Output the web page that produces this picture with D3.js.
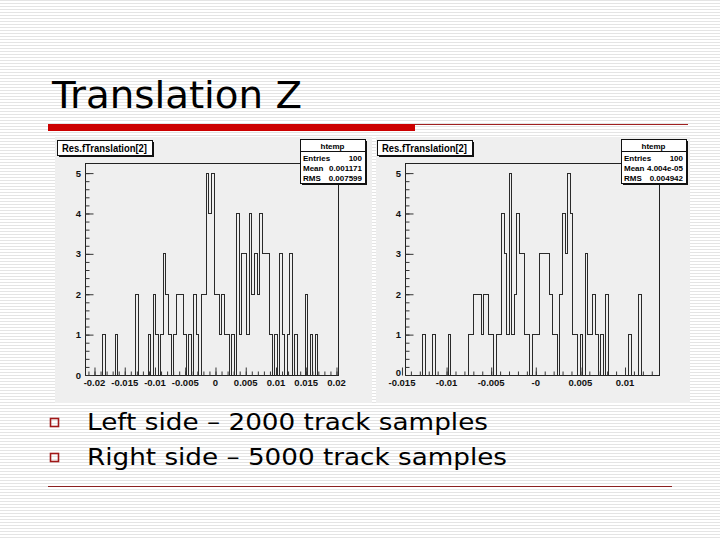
<!DOCTYPE html>
<html><head><meta charset="utf-8">
<script src="https://cdn.jsdelivr.net/npm/d3@7"></script>
<style>html,body{margin:0;padding:0;background:#fff;}svg{display:block;}</style>
</head><body>
<script>
// ---------- data ----------
const slideTitle = "Translation Z";
const bullets = ["Left side \u2013 2000 track samples", "Right side \u2013 5000 track samples"];
const histTitle = "Res.fTranslation[2]";
const statsName = "htemp";
const statsLabels = ["Entries", "Mean", "RMS"];
const leftStats = ["100", "0.001171", "0.007599"];
const rightStats = ["100", "4.004e-05", "0.004942"];
const leftRange = [-0.02157, 0.02025];
const rightRange = [-0.01466, 0.01381];
const leftTickValues = [-0.02, -0.015, -0.01, -0.005, 0, 0.005, 0.01, 0.015, 0.02];
const leftTickLabels = ["-0.02", "-0.015", "-0.01", "-0.005", "0", "0.005", "0.01", "0.015", "0.02"];
const rightTickValues = [-0.015, -0.01, -0.005, 0, 0.005, 0.01];
const rightTickLabels = ["-0.015", "-0.01", "-0.005", "-0", "0.005", "0.01"];
const yTickValues = [0, 1, 2, 3, 4, 5];
const yMax = 5.25;
const leftCounts = [
  0,0,0,0,0,0,0,1,0,0,
  0,0,1,0,0,0,0,0,0,0,
  2,0,0,0,0,1,0,2,1,0,
  1,3,2,1,0,1,2,2,2,1,
  0,1,0,2,1,0,2,2,5,4,
  5,2,2,1,2,1,1,0,1,0,
  4,1,3,3,1,4,2,3,2,4,
  3,3,3,1,0,1,0,3,1,0,
  1,3,0,1,0,0,0,2,0,1,
  0,1,0,0,0,0,0,0,0,0];
const rightCounts = [
  0,0,0,0,0,0,0,1,0,0,
  0,1,0,0,0,0,0,1,0,0,
  0,0,0,0,0,1,1,2,2,2,
  1,2,2,1,1,0,1,1,4,3,
  1,5,1,2,4,3,3,1,1,0,
  1,1,1,3,3,3,3,2,1,1,
  0,2,4,3,5,4,1,1,0,1,
  0,3,1,1,2,1,0,1,0,2,
  0,0,0,0,0,0,0,0,1,0,
  0,0,2,0,0,0,0,0,0,0];

// ---------- slide ----------
const W = 720, H = 540;
const svg = d3.select("body").append("svg").attr("width", W).attr("height", H);
const defs = svg.append("defs");
const pat = defs.append("pattern").attr("id", "stripes").attr("width", 6).attr("height", 3)
  .attr("patternUnits", "userSpaceOnUse");
pat.append("rect").attr("width", 6).attr("height", 3).attr("fill", "#ffffff");
pat.append("rect").attr("width", 6).attr("height", 1).attr("fill", "#e4e4e4");
svg.append("rect").attr("width", W).attr("height", H).attr("fill", "url(#stripes)");

svg.append("text").attr("x", 52).attr("y", 108)
  .attr("font-family", "DejaVu Sans, Verdana, sans-serif").attr("font-size", 38)
  .attr("textLength", 250).attr("lengthAdjust", "spacingAndGlyphs")
  .attr("fill", "#000").text(slideTitle);
svg.append("rect").attr("x", 48).attr("y", 124).attr("width", 367).attr("height", 7).attr("fill", "#cc0000");
svg.append("line").attr("x1", 415).attr("x2", 688).attr("y1", 124.5).attr("y2", 124.5)
  .attr("stroke", "#a02020").attr("stroke-width", 1);
svg.append("line").attr("x1", 48).attr("x2", 672).attr("y1", 486.5).attr("y2", 486.5)
  .attr("stroke", "#8b2020").attr("stroke-width", 1);

const bulletY = [430, 465];
const bulletW = [401, 420];
bullets.forEach((b, i) => {
  svg.append("rect").attr("x", 50.5).attr("y", bulletY[i] - 11.5).attr("width", 8).attr("height", 8)
    .attr("fill", "none").attr("stroke", "#a01818").attr("stroke-width", 1.6);
  svg.append("text").attr("x", 87).attr("y", bulletY[i])
    .attr("font-family", "DejaVu Sans, Verdana, sans-serif").attr("font-size", 23)
    .attr("textLength", bulletW[i]).attr("lengthAdjust", "spacingAndGlyphs")
    .attr("fill", "#000").text(b);
});

// ---------- histogram panel ----------
function panel(cfg) {
  const g = svg.append("g");
  const rootFont = "Liberation Sans, Arial, Helvetica, sans-serif";
  g.append("rect").attr("x", cfg.pad[0]).attr("y", cfg.pad[1]).attr("width", cfg.pad[2]).attr("height", cfg.pad[3])
    .attr("fill", "#efefef");
  const x = d3.scaleLinear().domain(cfg.range).range([cfg.frame[0], cfg.frame[1]]);
  const y = d3.scaleLinear().domain([0, yMax]).range([cfg.frame[3], cfg.frame[2]]);
  const n = cfg.counts.length;
  const bw = (cfg.range[1] - cfg.range[0]) / n;
  // step outline
  const pts = [[x(cfg.range[0]), y(0)]];
  cfg.counts.forEach((c, i) => {
    const a = cfg.range[0] + i * bw, b = a + bw;
    pts.push([x(a), y(c)]); pts.push([x(b), y(c)]);
  });
  pts.push([x(cfg.range[1]), y(0)]);
  g.append("path").attr("d", d3.line()(pts)).attr("fill", "none")
    .attr("stroke", "#2a2a2a").attr("stroke-width", 1).attr("shape-rendering", "crispEdges");
  // frame
  g.append("rect").attr("x", cfg.frame[0] + 0.5).attr("y", cfg.frame[2] + 0.5)
    .attr("width", cfg.frame[1] - cfg.frame[0]).attr("height", cfg.frame[3] - cfg.frame[2])
    .attr("fill", "none").attr("stroke", "#222").attr("stroke-width", 1);
  // x axis ticks (inside, upward)
  const xMajor = cfg.tickValues;
  const xMinor = d3.range(Math.ceil(cfg.range[0] / 0.001), Math.floor(cfg.range[1] / 0.001) + 1).map(k => k * 0.001);
  const xAxis = d3.axisTop(x).tickValues(xMinor).tickSize(4).tickFormat("");
  g.append("g").attr("transform", `translate(0,${cfg.frame[3] + 0.5})`).call(xAxis)
    .call(s => s.select(".domain").remove()).selectAll("line").attr("stroke", "#333");
  const xAxisM = d3.axisTop(x).tickValues(xMajor).tickSize(8).tickFormat("");
  g.append("g").attr("transform", `translate(0,${cfg.frame[3] + 0.5})`).call(xAxisM)
    .call(s => s.select(".domain").remove()).selectAll("line").attr("stroke", "#333");
  xMajor.forEach((v, i) => {
    g.append("text").attr("x", x(v)).attr("y", cfg.frame[3] + 10.5).attr("text-anchor", "middle")
      .attr("font-family", rootFont).attr("font-size", 9.5).attr("font-weight", "bold")
      .attr("fill", "#111").text(cfg.tickLabels[i]);
  });
  // y axis ticks (inside, rightward)
  const yMinor = d3.range(0, 26).map(k => k * 0.2).filter(v => v <= yMax);
  const yAxis = d3.axisRight(y).tickValues(yMinor).tickSize(4).tickFormat("");
  g.append("g").attr("transform", `translate(${cfg.frame[0] + 0.5},0)`).call(yAxis)
    .call(s => s.select(".domain").remove()).selectAll("line").attr("stroke", "#333");
  const yAxisM = d3.axisRight(y).tickValues(yTickValues).tickSize(8).tickFormat("");
  g.append("g").attr("transform", `translate(${cfg.frame[0] + 0.5},0)`).call(yAxisM)
    .call(s => s.select(".domain").remove()).selectAll("line").attr("stroke", "#333");
  yTickValues.forEach(v => {
    const lift = (v === 0 && cfg.liftZero) ? 2.5 : 0;
    g.append("text").attr("x", cfg.frame[0] - 4).attr("y", y(v) + 3.5 - lift).attr("text-anchor", "end")
      .attr("font-family", rootFont).attr("font-size", 9.5).attr("font-weight", "bold")
      .attr("fill", "#111").text(v);
  });
  // title box
  const tb = cfg.titleBox;
  g.append("rect").attr("x", tb[0] + 2).attr("y", tb[1] + 2).attr("width", tb[2]).attr("height", tb[3]).attr("fill", "#111");
  g.append("rect").attr("x", tb[0] + 0.5).attr("y", tb[1] + 0.5).attr("width", tb[2]).attr("height", tb[3])
    .attr("fill", "#fff").attr("stroke", "#111").attr("stroke-width", 1);
  g.append("text").attr("x", tb[0] + 5).attr("y", tb[1] + 11.5)
    .attr("font-family", rootFont).attr("font-size", 10.5).attr("font-weight", "bold")
    .attr("textLength", tb[2] - 10).attr("lengthAdjust", "spacingAndGlyphs")
    .attr("fill", "#000").text(histTitle);
  // stats box
  const sb = cfg.statsBox;
  g.append("rect").attr("x", sb[0] + 2).attr("y", sb[1] + 2).attr("width", sb[2]).attr("height", sb[3]).attr("fill", "#111");
  g.append("rect").attr("x", sb[0] + 0.5).attr("y", sb[1] + 0.5).attr("width", sb[2]).attr("height", sb[3])
    .attr("fill", "#fff").attr("stroke", "#111").attr("stroke-width", 1);
  g.append("line").attr("x1", sb[0]).attr("x2", sb[0] + sb[2]).attr("y1", sb[1] + 12.5).attr("y2", sb[1] + 12.5)
    .attr("stroke", "#111");
  g.append("text").attr("x", sb[0] + sb[2] / 2).attr("y", sb[1] + 9.5).attr("text-anchor", "middle")
    .attr("font-family", rootFont).attr("font-size", 8).attr("font-weight", "bold").attr("fill", "#000").text(statsName);
  statsLabels.forEach((lab, i) => {
    const yy = sb[1] + 21.5 + i * 10;
    g.append("text").attr("x", sb[0] + 3).attr("y", yy)
      .attr("font-family", rootFont).attr("font-size", 8).attr("font-weight", "bold").attr("fill", "#000").text(lab);
    g.append("text").attr("x", sb[0] + sb[2] - 3).attr("y", yy).attr("text-anchor", "end")
      .attr("font-family", rootFont).attr("font-size", 8).attr("font-weight", "bold").attr("fill", "#000").text(cfg.stats[i]);
  });
}

panel({
  pad: [55, 137, 317, 266], frame: [85, 338, 163, 375], range: leftRange, counts: leftCounts,
  tickValues: leftTickValues, tickLabels: leftTickLabels,
  titleBox: [57, 140, 95, 15], statsBox: [300, 139, 65, 44], stats: leftStats, liftZero: false
});
panel({
  pad: [376, 137, 314, 266], frame: [405, 659, 163, 375], range: rightRange, counts: rightCounts,
  tickValues: rightTickValues, tickLabels: rightTickLabels,
  titleBox: [377, 140, 95, 15], statsBox: [621, 139, 65, 44], stats: rightStats, liftZero: true
});
</script>
</body></html>
